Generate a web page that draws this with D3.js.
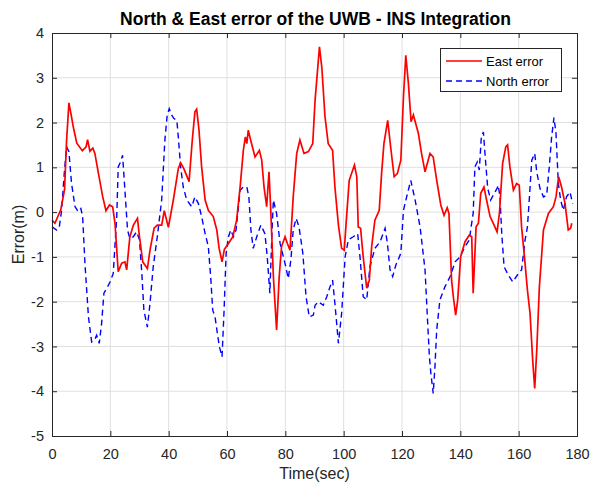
<!DOCTYPE html>
<html><head><meta charset="utf-8">
<script src="https://cdn.jsdelivr.net/npm/d3@7"></script>
<style>body{margin:0;background:#fff}svg{display:block}text{font-family:"Liberation Sans",Arial,sans-serif}</style>
</head><body>
<svg id="c" width="591" height="488"></svg>
<script>
const title = "North & East error of the UWB - INS Integration";
const xLabel = "Time(sec)";
const yLabel = "Error(m)";
const xTicks = [0,20,40,60,80,100,120,140,160,180];
const yTicks = [-5,-4,-3,-2,-1,0,1,2,3,4];
const seriesNames = ["East error","North error"];

const eastTime = [0,1,3,4.3,5,5.8,6.5,7.3,8.5,10.4,11.7,12.2,13,14,14.7,15.9,17.4,18.5,19.7,20.8,21.6,22.2,22.7,23.9,25,25.6,26.7,27.9,29.3,30,31.1,32.7,33.6,35,36.1,37.6,38.5,39.9,41.6,43.3,44.1,45.2,47,48.1,49,49.6,50.4,51.3,52.5,53.6,55.3,56.5,57.3,58.3,59.1,60.5,62,63.3,64.5,65.6,66.3,66.8,67.3,68.1,69.6,71.1,71.9,72.7,73.6,74.4,75,75.9,77,77.9,78.7,79.9,80.7,81.6,82.7,83.9,85,86.4,87.9,89.4,90.2,91.7,92.5,93.6,94.7,96.2,97,98.2,99.3,100.2,101,101.9,103.7,104.5,105,105.8,106.7,107.9,108.8,109.6,110.7,112.2,113,113.8,115.1,116.1,117.3,118.4,119.6,120.5,121.3,122.2,123.1,123.9,125.6,126.7,127.9,129.6,130.7,131.9,133.3,134.4,135.5,136.1,137,137.6,138.4,139.1,140.1,141.6,143.1,143.9,144.4,145.4,146.2,147,148.1,149,150.2,151.3,152.6,153.4,154.5,155.6,156.2,157,158.2,159.3,160.2,161,162.2,163,163.9,164.8,165.5,166.2,167.1,168.5,170.2,171.9,172.8,173.7,174.7,175.9,177,177.8,178.2];
const eastError = [-0.18,-0.25,0.05,0.5,1.6,2.44,2.2,1.9,1.54,1.37,1.46,1.62,1.36,1.43,1.31,0.87,0.34,0.03,0.16,0.12,-0.25,-0.85,-1.33,-1.14,-1.11,-1.29,-0.55,-0.29,-0.14,-0.55,-1.11,-1.26,-0.85,-0.36,-0.29,-0.29,0.03,-0.34,0.27,0.97,1.1,0.97,0.68,1.61,2.24,2.3,1.83,1.01,0.27,0.04,-0.1,-0.4,-0.81,-1.11,-0.83,-0.7,-0.55,-0.18,0.56,1.38,1.68,1.53,1.83,1.61,1.23,1.38,1.16,0.56,0.12,0.9,0.04,-1.44,-2.63,-1.44,-0.77,-0.55,-0.7,-0.85,0.34,1.31,1.61,1.31,1.35,1.53,2.5,3.69,3.24,2.13,1.53,1.38,0.56,-0.29,-0.81,-0.85,-0.1,0.71,1.05,0.79,-0.33,-0.36,-1.0,-1.7,-1.52,-0.77,-0.18,0.04,0.86,1.53,2.05,1.46,0.79,0.86,1.16,2.57,3.5,2.87,2.02,2.17,1.76,1.31,0.9,1.31,1.23,0.71,0.16,-0.07,0.1,-0.03,-1.52,-1.89,-2.3,-1.96,-1.0,-0.66,-0.51,-0.55,-1.81,-0.33,-0.25,0.42,0.56,0.27,-0.1,-0.25,-0.44,-0.03,1.09,1.46,1.5,1.01,0.49,0.64,0.6,-0.33,-1.15,-1.74,-2.26,-3.3,-3.94,-3.08,-1.67,-0.4,-0.03,0.12,0.34,0.79,0.56,0.19,-0.4,-0.36,-0.25];

const northTime = [0,1.6,2.5,3.3,4.2,5,5.8,6.7,7.9,9,9.9,10.5,11.3,12.5,13.6,14.7,15.3,16.2,17,17.8,18.8,19.9,21,22.2,22.7,23.5,24.2,25,25.9,26.7,27.9,29,30,30.8,31.5,32.7,33.6,34.7,36.1,37.6,38.7,39.5,40.2,41,41.8,42.8,43.3,44.1,45,46.2,47.9,49,50.2,51.3,52.5,53.6,54.4,55.1,55.9,56.7,57.4,58.3,59,59.7,60.5,61.3,62.2,63.1,64.5,65.6,66.8,67.5,68.2,69,70.2,71.6,73,73.8,74.7,75.4,75.9,77,78.2,79.9,81,81.9,82.7,83.7,84.7,86,87.1,88.2,89.6,90.2,91.3,93,94.2,95.3,96.2,97,98.2,99.3,100.5,101.6,103.3,104.8,105.6,106.7,107.9,109,110.7,112.5,114.2,115,115.9,116.8,117.9,119.6,120.5,121.6,123,124.5,126.2,127.9,128.7,129.4,129.9,130.7,131.3,131.9,133,134.7,136.5,138.2,139.9,141.6,143.1,143.7,144.4,145,145.8,146.5,147.2,147.9,148.7,149.4,150.4,151.3,152.6,153,153.6,154.2,155,156.5,158,159.5,161,162.2,163,163.7,164.5,165.5,166.2,167.3,168.5,169.6,170.5,171.3,172.1,172.8,173.6,174.4,175.3,176.4,177.6,178.5];
const northError = [-0.33,-0.4,-0.33,0.04,0.86,1.46,1.35,0.64,0.12,0.01,0.08,-0.1,-1.15,-2.34,-2.9,-2.84,-2.75,-2.93,-2.49,-1.81,-1.7,-1.56,-1.37,-0.1,1.01,1.12,1.27,0.49,-0.4,-0.59,-0.55,-0.44,-0.62,-1.37,-2.19,-2.57,-2.04,-1.22,-0.55,0.27,1.61,2.17,2.31,2.17,2.09,2.05,1.68,1.01,0.56,0.27,0.12,0.34,0.19,-0.1,-0.48,-0.77,-1.44,-2.19,-2.34,-2.71,-3.01,-3.23,-2.19,-0.92,-0.55,-0.4,-0.55,-0.4,0.49,0.56,0.56,0.34,-0.4,-0.81,-0.55,-0.29,-0.48,-1.0,-1.81,-0.48,0.27,-0.03,-0.7,-1.15,-1.48,-1.07,-0.4,-0.14,-0.33,-0.92,-1.89,-2.34,-2.3,-2.08,-2.0,-2.08,-1.89,-1.67,-1.52,-2.04,-2.93,-2.26,-1.0,-0.62,-0.55,-0.48,-1.0,-1.89,-1.96,-1.22,-0.81,-0.66,-0.36,-0.7,-1.29,-1.44,-1.18,-0.92,0.04,0.34,0.71,0.27,-0.33,-1.29,-2.34,-3.23,-3.6,-4.05,-3.45,-2.63,-1.96,-1.67,-1.44,-1.11,-1.0,-0.77,-0.62,-0.33,-0.03,1.01,1.12,0.94,1.68,1.79,1.09,0.53,0.27,0.38,0.53,0.6,0.34,-0.48,-1.22,-1.41,-1.56,-1.41,-1.29,-0.62,-0.33,0.34,1.16,1.31,0.9,0.53,0.34,0.38,1.01,1.68,2.11,1.76,0.64,0.27,0.04,0.34,0.45,0.19];

const svg = d3.select("#c");
const L = 52, R = 577, T = 33, B = 436;
const x = d3.scaleLinear().domain([0,180]).range([L,R]);
const y = d3.scaleLinear().domain([-5,4]).range([B,T]);
const txtCol = "#262626";
const fmt = d => String(d);

// grid
const g = svg.append("g");
g.selectAll(".gx").data(xTicks.slice(1,-1)).enter().append("line")
  .attr("x1",d=>x(d)).attr("x2",d=>x(d)).attr("y1",T).attr("y2",B)
  .attr("stroke","#dfdfdf").attr("stroke-width",1);
g.selectAll(".gy").data(yTicks.slice(1,-1)).enter().append("line")
  .attr("y1",d=>y(d)).attr("y2",d=>y(d)).attr("x1",L).attr("x2",R)
  .attr("stroke","#dfdfdf").attr("stroke-width",1);

// lines
const mk = (ts, vs) => ts.map((t,i)=>[t,vs[i]]);
const line = d3.line().x(d=>x(d[0])).y(d=>y(d[1]));
svg.append("path").datum(mk(northTime,northError)).attr("d",line)
  .attr("fill","none").attr("stroke","#0000ff").attr("stroke-width",1.4)
  .attr("stroke-dasharray","6,4");
svg.append("path").datum(mk(eastTime,eastError)).attr("d",line)
  .attr("fill","none").attr("stroke","#ff0000").attr("stroke-width",1.7);

// axes
const ax = svg.append("g").attr("transform",`translate(0,${B})`)
  .call(d3.axisBottom(x).tickValues(xTicks).tickSize(-5).tickPadding(13).tickFormat(fmt));
const ay = svg.append("g").attr("transform",`translate(${L},0)`)
  .call(d3.axisLeft(y).tickValues(yTicks).tickSize(-5).tickPadding(8).tickFormat(fmt));
const ax2 = svg.append("g").attr("transform",`translate(0,${T})`)
  .call(d3.axisTop(x).tickValues(xTicks).tickSize(-5).tickFormat(""));
const ay2 = svg.append("g").attr("transform",`translate(${R},0)`)
  .call(d3.axisRight(y).tickValues(yTicks).tickSize(-5).tickFormat(""));
[ax,ay,ax2,ay2].forEach(a=>{
  a.selectAll("path").attr("stroke",txtCol).attr("stroke-width",1);
  a.selectAll("line").attr("stroke",txtCol);
  a.selectAll("text").attr("fill",txtCol).style("font-size","14.5px").style("font-family","'Liberation Sans',Arial,sans-serif");
});

// titles
svg.append("text").attr("x",(L+R)/2 + 1).attr("y",25).attr("text-anchor","middle")
  .style("font-size","17.5px").style("font-weight","bold").attr("fill","#000").text(title);
svg.append("text").attr("x",(L+R)/2).attr("y",479).attr("text-anchor","middle")
  .style("font-size","16px").attr("fill",txtCol).text(xLabel);
svg.append("text").attr("transform",`translate(24,${(T+B)/2}) rotate(-90)`).attr("text-anchor","middle")
  .style("font-size","16px").attr("fill",txtCol).text(yLabel);

// legend
const lg = svg.append("g");
lg.append("rect").attr("x",440.5).attr("y",48.5).attr("width",121).attr("height",43)
  .attr("fill","#fff").attr("stroke",txtCol).attr("stroke-width",1);
const colors = ["#ff0000","#0000ff"];
const dashes = [null,"6,4"];
seriesNames.forEach((n,i)=>{
  const yy = 61 + i*20;
  lg.append("line").attr("x1",446).attr("x2",482).attr("y1",yy).attr("y2",yy)
    .attr("stroke",colors[i]).attr("stroke-width",1.3).attr("stroke-dasharray",dashes[i]);
  lg.append("text").attr("x",486).attr("y",yy+5).style("font-size","13px").attr("fill","#000").text(n);
});
</script>
</body></html>
